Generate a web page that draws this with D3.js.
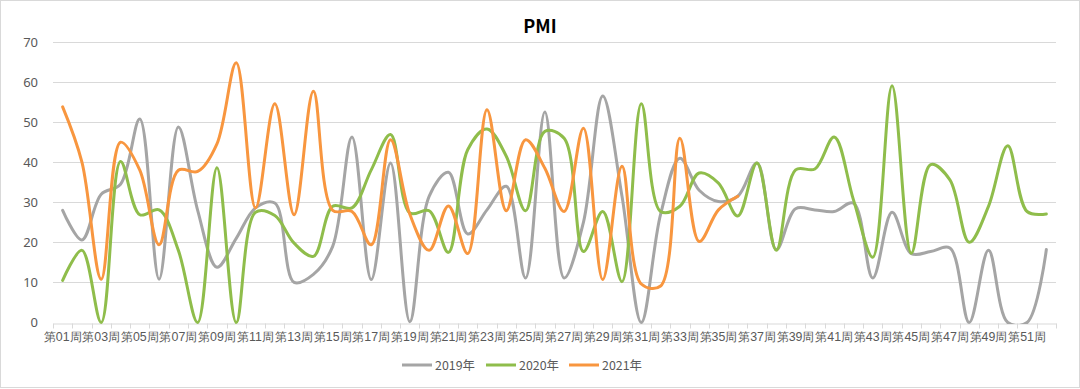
<!DOCTYPE html>
<html>
<head>
<meta charset="utf-8">
<script src="https://cdn.jsdelivr.net/npm/d3@7"></script>
<style>
	body { margin: 0; background: #fff; }
	svg { display: block; font-family: "Noto Sans CJK SC", "Noto Sans", sans-serif; }
</style>
</head>
<body>
<svg id="chart" width="1080" height="389"></svg>
<script>
/*	Chart data ------------------------------------------------------------------*/
var weeks = [];
for (var w = 1; w <= 52; w++) weeks.push("第" + (w < 10 ? "0" + w : w) + "周");

var seriesNames = ["2019年", "2020年", "2021年"];
var seriesColors = ["#A5A5A5", "#8FBD4B", "#F8963F"];

var pmi2019 = [28, 20.6, 32, 34.5, 50.8, 10.8, 48.8, 28, 13.8, 21, 28.6, 29.8,
	10, 12, 19, 46.3, 10.7, 39.8, 0.2, 31.5, 37.5, 22.1, 28.1, 34, 11.1, 52.5,
	11.1, 25, 56.5, 31.5, 0, 27, 41, 33, 30.2, 31.5, 39.8, 18.2, 28.4, 28.1,
	27.7, 29.8, 11.1, 27.5, 17.2, 17.7, 18.6, 0, 18, 0, 0, 18.2];
var pmi2020 = [10.5, 18, 0, 40.2, 26.9, 28.1, 18, 0, 38.6, 0, 27.5, 26.7,
	19.8, 16.5, 29, 28.6, 38.1, 46.9, 27.3, 27.9, 17.5, 43.1, 48.3, 41.5, 27.9, 47.7,
	46, 17.7, 27.7, 10.2, 54.6, 27.7, 29, 37.3, 34.8, 26.6, 39.8, 18, 38.1, 38.3,
	46.3, 30.6, 16.3, 59.1, 17.3, 39.4, 35.6, 20, 29, 44.1, 27.7, 27.1];
var pmi2021 = [53.8, 40, 10.8, 45, 38, 19.4, 38, 37.7, 44.6, 64.8, 28.6, 54.6,
	26.9, 57.7, 28, 27.7, 19.4, 45.6, 27, 18, 29.1, 17.2, 53.1, 27.9, 45.6, 38.5,
	27.7, 48.5, 10.7, 39, 9.6, 9.1, 46, 20.2, 28.1, 31.5];
var seriesData = [pmi2019, pmi2020, pmi2021];

var yTicks = [0, 10, 20, 30, 40, 50, 60, 70];

/*	Layout ----------------------------------------------------------------------*/
var width = 1080, height = 389;
var padding = {left: 53, right: 24, top: 42, bottom: 66.5};

var svg = d3.select("#chart");

/*	Outer chart border ----------------------------------------------------------*/
svg.append("rect")
	.attr("x", 0.5).attr("y", 0.5)
	.attr("width", width - 1).attr("height", height - 2)
	.attr("fill", "#fff")
	.attr("stroke", "#D9D9D9");

var xScale = d3.scaleBand()
	.domain(weeks)
	.range([padding.left, width - padding.right]);
var yScale = d3.scaleLinear()
	.domain([0, 70])
	.range([height - padding.bottom, padding.top]);

/*	Title -----------------------------------------------------------------------*/
svg.append("text")
	.attr("x", 540).attr("y", 33)
	.attr("text-anchor", "middle")
	.attr("font-size", "18px")
	.attr("font-weight", "bold")
	.attr("fill", "#000")
	.text("PMI");

/*	Grid lines ------------------------------------------------------------------*/
svg.append("g")
	.selectAll("line")
	.data(yTicks.slice(1))
	.enter()
	.append("line")
	.attr("x1", padding.left)
	.attr("x2", width - padding.right)
	.attr("y1", function(d){ return Math.round(yScale(d)) + 0.5; })
	.attr("y2", function(d){ return Math.round(yScale(d)) + 0.5; })
	.attr("stroke", "#D9D9D9")
	.attr("stroke-width", 1);

/*	Y axis labels ---------------------------------------------------------------*/
var yAxis = d3.axisLeft(yScale).tickValues(yTicks).tickSize(0).tickPadding(0);
var yG = svg.append("g")
	.attr("transform", "translate(" + (padding.left - 15) + ",0)")
	.call(yAxis);
yG.select(".domain").remove();
yG.selectAll("text")
	.attr("font-size", "13px")
	.attr("font-family", "'Noto Sans', sans-serif")
	.attr("fill", "#595959");

/*	X axis ----------------------------------------------------------------------*/
var xAxis = d3.axisBottom(xScale)
	.tickValues(weeks.filter(function(d, i){ return i % 2 === 0; }))
	.tickSize(0)
	.tickPadding(9);
var xG = svg.append("g")
	.attr("transform", "translate(0," + (Math.round(yScale(0)) + 0.5) + ")")
	.call(xAxis);
xG.select(".domain").attr("stroke", "#D9D9D9");
xG.selectAll("text")
	.attr("font-size", "12.4px")
	.attr("fill", "#595959");
/*	tick marks at category boundaries -------------------------------------------*/
var bounds = weeks.map(function(d){ return xScale(d); });
bounds.push(width - padding.right);
xG.append("g").selectAll("line")
	.data(bounds)
	.enter()
	.append("line")
	.attr("x1", function(d){ return Math.round(d) + 0.5; })
	.attr("x2", function(d){ return Math.round(d) + 0.5; })
	.attr("y1", 0).attr("y2", 5)
	.attr("stroke", "#D9D9D9");

/*	Lines -----------------------------------------------------------------------*/
svg.append("clipPath").attr("id", "plotClip")
	.append("rect")
	.attr("x", padding.left).attr("y", padding.top - 10)
	.attr("width", width - padding.left - padding.right)
	.attr("height", yScale(0) - padding.top + 11.5);

var line = d3.line()
	.x(function(d, i){ return xScale(weeks[i]) + xScale.bandwidth() / 2; })
	.y(function(d){ return yScale(d); })
	.curve(d3.curveCatmullRom.alpha(0.5));

var lineG = svg.append("g").attr("clip-path", "url(#plotClip)");
seriesData.forEach(function(values, k){
	lineG.append("path")
		.attr("d", line(values))
		.attr("fill", "none")
		.attr("stroke", seriesColors[k])
		.attr("stroke-width", 3)
		.attr("stroke-linecap", "round")
		.attr("stroke-linejoin", "round");
});

/*	Legend ----------------------------------------------------------------------*/
var legendX = [402, 486, 569];
var legend = svg.append("g");
seriesNames.forEach(function(name, k){
	legend.append("line")
		.attr("x1", legendX[k]).attr("x2", legendX[k] + 30)
		.attr("y1", 365).attr("y2", 365)
		.attr("stroke", seriesColors[k])
		.attr("stroke-width", 3);
	legend.append("text")
		.attr("x", legendX[k] + 33).attr("y", 369.5)
		.attr("font-size", "12.4px")
		.attr("fill", "#595959")
		.text(name);
});
</script>
</body>
</html>
